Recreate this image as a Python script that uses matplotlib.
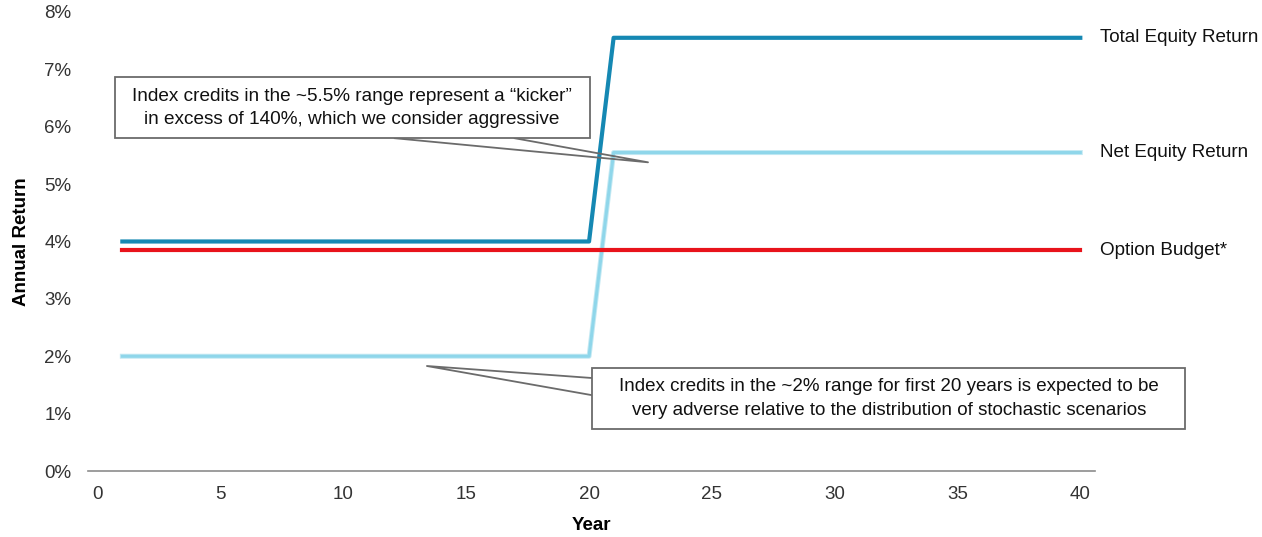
import matplotlib.pyplot as plt
import matplotlib.patheffects as pe
from matplotlib.patches import Rectangle

plt.rcParams['font.family'] = ['Liberation Sans', 'DejaVu Sans']

years = list(range(1, 41))
total_equity = [4.0] * 20 + [7.55] * 20
net_equity = [2.0] * 20 + [5.55] * 20
option_budget = [3.85] * 40

series_labels = ['Total Equity Return', 'Net Equity Return', 'Option Budget*']
xticks = [0, 5, 10, 15, 20, 25, 30, 35, 40]
yticks = [0, 1, 2, 3, 4, 5, 6, 7, 8]

note_top = 'Index credits in the ~5.5% range represent a \u201ckicker\u201d\nin excess of 140%, which we consider aggressive'
note_bottom = ('Index credits in the ~2% range for first 20 years is expected to be\n'
               'very adverse relative to the distribution of stochastic scenarios')

fig = plt.figure(figsize=(12.62, 5.37), dpi=100)
ax = fig.add_axes([0.0697, 0.1229, 0.798, 0.8548])

ax.plot(years, net_equity, color='#8fd6ea', lw=2.2,
        path_effects=[pe.Stroke(linewidth=3.6, foreground='#c4e9f3'), pe.Normal()])
ax.plot(years, total_equity, color='#1588b3', lw=3)
ax.plot(years, option_budget, color='#e8131b', lw=3)

ax.set_xlim(-0.4, 40.6)
ax.set_ylim(0, 8)
ax.set_xticks(xticks)
ax.set_yticks(yticks)
ax.set_yticklabels([f'{v}%' for v in yticks])
ax.tick_params(length=0, labelsize=13.5, colors='#333333')
ax.tick_params(axis='x', pad=11)
ax.tick_params(axis='y', pad=12)
for s in ['top', 'right', 'left']:
    ax.spines[s].set_visible(False)
ax.spines['bottom'].set_color('#8c8c8c')
ax.spines['bottom'].set_linewidth(1.2)

ax.set_xlabel('Year', fontsize=13.5, fontweight='bold', labelpad=10)
ax.set_ylabel('Annual Return', fontsize=13.5, fontweight='bold', labelpad=10)

# series labels at right end
for lbl, vals in zip(series_labels, [total_equity, net_equity, option_budget]):
    ax.text(40.8, vals[-1], lbl, fontsize=13.6, va='center', ha='left', color='#111111', clip_on=False)

# callout boxes
box_col = '#6b6b6b'
ax.add_patch(Rectangle((0.69, 5.80), 19.33, 1.06, fill=True, facecolor='white',
                       edgecolor=box_col, lw=1.3, clip_on=False, zorder=5))
ax.text(10.35, 6.33, note_top, ha='center', va='center', fontsize=13.7,
        linespacing=1.5, zorder=6, color='#111111')
ax.plot([12.09, 22.4, 16.97], [5.80, 5.38, 5.80], color=box_col, lw=1.3, zorder=4, clip_on=False)

ax.add_patch(Rectangle((20.14, 0.73), 24.13, 1.06, fill=True, facecolor='white',
                       edgecolor=box_col, lw=1.3, clip_on=False, zorder=5))
ax.text(32.2, 1.26, note_bottom, ha='center', va='center', fontsize=13.5,
        linespacing=1.5, zorder=6, color='#111111')
ax.plot([20.14, 13.4, 20.14], [1.62, 1.83, 1.32], color=box_col, lw=1.3, zorder=4, clip_on=False)

fig.savefig('out.png', dpi=100)
